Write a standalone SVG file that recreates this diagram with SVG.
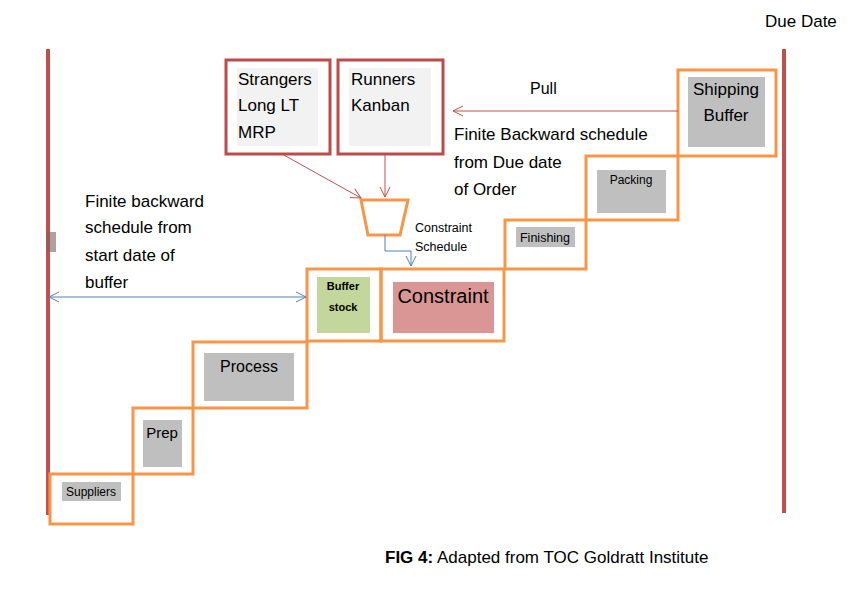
<svg xmlns="http://www.w3.org/2000/svg" width="850" height="590" viewBox="0 0 850 590">
<defs>
<style>
text{font-family:"Liberation Sans",Arial,sans-serif;fill:#000}
.st{fill:none;stroke:#F79646;stroke-width:3}
.gr{fill:#BFBFBF}
.rb{fill:#fff;stroke:#BE4B48;stroke-width:3}
.lg{fill:#F2F2F2}
.bar{stroke:#C0504D;stroke-width:4}
.red{stroke:#C0504D;stroke-width:1;fill:none}
.blue{stroke:#4F81BD;stroke-width:1;fill:none}
</style>
<marker id="ar" viewBox="0 0 12 12" refX="11" refY="6" markerWidth="12" markerHeight="12" markerUnits="userSpaceOnUse" orient="auto-start-reverse"><path d="M1,1 L11,6 L1,11" fill="none" stroke="#C0504D" stroke-width="1"/></marker>
<marker id="ab" viewBox="0 0 12 12" refX="11" refY="6" markerWidth="12" markerHeight="12" markerUnits="userSpaceOnUse" orient="auto-start-reverse"><path d="M1,1 L11,6 L1,11" fill="none" stroke="#4F81BD" stroke-width="1"/></marker>
</defs>
<rect width="850" height="590" fill="#fff"/>
<g id="left-bar"><line class="bar" x1="48" y1="49" x2="48" y2="515"/><rect x="46" y="232" width="10" height="20" fill="#7F6060" opacity="0.6"/></g>
<g id="right-bar"><line class="bar" x1="784" y1="49" x2="784" y2="513"/></g>
<text x="765" y="27" font-size="17">Due Date</text>

<g id="suppliers"><rect class="st" x="50" y="474" width="83" height="50"/><rect class="gr" x="62" y="482" width="59" height="19"/><text x="91" y="496" font-size="12" text-anchor="middle">Suppliers</text></g>
<g id="prep"><rect class="st" x="133" y="408" width="60" height="66"/><rect class="gr" x="143" y="420" width="39" height="47"/><text x="162" y="438" font-size="15" text-anchor="middle">Prep</text></g>
<g id="process"><rect class="st" x="193" y="342" width="114" height="66"/><rect class="gr" x="204" y="353" width="90" height="48"/><text x="249" y="372" font-size="16" text-anchor="middle">Process</text></g>
<g id="buffer-stock"><rect class="st" x="307" y="269" width="74" height="72"/><rect x="317" y="277" width="53" height="56" fill="#C3D69B"/><text x="343" y="290" font-size="11" font-weight="bold" text-anchor="middle">Buffer</text><text x="343" y="311" font-size="11" font-weight="bold" text-anchor="middle">stock</text></g>
<g id="constraint"><rect class="st" x="381" y="269" width="123" height="72"/><rect x="393" y="282" width="101" height="51" fill="#D99694"/><text x="443" y="303" font-size="20" text-anchor="middle">Constraint</text></g>
<g id="finishing"><rect class="st" x="505" y="220" width="81" height="49"/><rect class="gr" x="516" y="227" width="59" height="20"/><text x="545" y="242" font-size="12.5" text-anchor="middle">Finishing</text></g>
<g id="packing"><rect class="st" x="586" y="156" width="92" height="64"/><rect class="gr" x="597" y="170" width="69" height="43"/><text x="631" y="184" font-size="12" text-anchor="middle">Packing</text></g>
<g id="shipping-buffer"><rect class="st" x="678" y="70" width="98" height="86"/><rect class="gr" x="688" y="77" width="77" height="70"/><text x="726" y="95" font-size="17" text-anchor="middle">Shipping</text><text x="726" y="121" font-size="17" text-anchor="middle">Buffer</text></g>

<g id="strangers"><rect class="rb" x="226" y="60" width="104" height="94"/><rect class="lg" x="237" y="68" width="81" height="78"/><text x="238" y="85" font-size="17">Strangers</text><text x="238" y="111" font-size="17">Long LT</text><text x="238" y="138" font-size="17">MRP</text></g>
<g id="runners"><rect class="rb" x="338" y="60" width="105" height="94"/><rect class="lg" x="349" y="68" width="82" height="78"/><text x="351" y="85" font-size="17">Runners</text><text x="351" y="111" font-size="17">Kanban</text></g>
<g id="funnel"><polygon points="361,200 408,200 400,235 368,235" fill="#fff" stroke="#F79646" stroke-width="3"/></g>

<g id="connectors">
<line class="red" x1="282" y1="154" x2="361" y2="198" marker-end="url(#ar)"/>
<line class="red" x1="385" y1="154" x2="385" y2="197" marker-end="url(#ar)"/>
<line class="red" x1="678" y1="111" x2="453" y2="111" marker-end="url(#ar)"/>
<polyline class="blue" points="385,235 385,251 411,251 411,266" marker-end="url(#ab)"/>
<line class="blue" x1="49" y1="297" x2="306" y2="297" marker-start="url(#ab)" marker-end="url(#ab)"/>
</g>

<text x="415" y="232" font-size="12.5">Constraint</text>
<text x="415" y="251" font-size="12.5">Schedule</text>
<text x="530" y="94" font-size="16">Pull</text>
<text x="454" y="140" font-size="17">Finite Backward schedule</text>
<text x="454" y="168" font-size="17">from Due date</text>
<text x="454" y="195" font-size="17">of Order</text>
<text x="85" y="207" font-size="17">Finite backward</text>
<text x="85" y="233" font-size="17">schedule from</text>
<text x="85" y="261" font-size="17">start date of</text>
<text x="85" y="288" font-size="17">buffer</text>
<text x="385" y="563" font-size="17"><tspan font-weight="bold">FIG 4:</tspan> Adapted from TOC Goldratt Institute</text>
</svg>
